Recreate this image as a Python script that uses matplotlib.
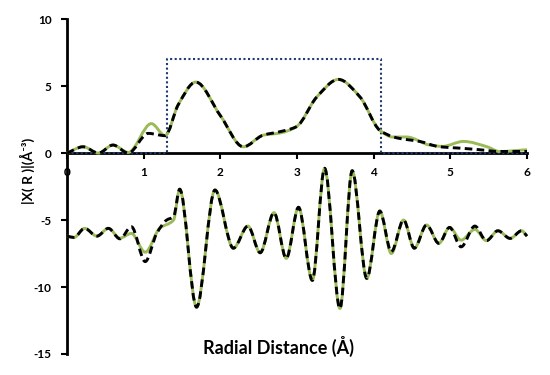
import numpy as np
import matplotlib
matplotlib.use("Agg")
import matplotlib.pyplot as plt
from matplotlib.path import Path
from matplotlib.patches import PathPatch

# ---- data ----
mag_fit_x = [0, 0.21, 0.41, 0.60, 0.80, 1.06, 1.28, 1.45, 1.68, 2.0, 2.30, 2.56, 2.78, 2.99,
             3.26, 3.54, 3.82, 4.08, 4.25, 4.34, 4.60, 4.86, 5.12, 5.38, 5.64, 6.0]
mag_fit_y = [0, 0.47, 0.0, 0.6, 0.0, 1.47, 1.30, 3.6, 5.3, 2.8, 0.47, 1.34, 1.6, 1.96,
             4.2, 5.5, 4.2, 1.7, 1.22, 1.09, 0.87, 0.47, 0.37, 0.25, 0.12, 0.12]
mag_exp_x = [0, 0.21, 0.41, 0.60, 0.80, 1.10, 1.28, 1.45, 1.68, 2.0, 2.30, 2.56, 2.78, 2.99,
             3.26, 3.54, 3.82, 4.08, 4.25, 4.43, 4.73, 4.90, 5.17, 5.48, 5.64, 6.0]
mag_exp_y = [0, 0.47, 0.0, 0.6, 0.05, 2.2, 1.30, 3.6, 5.3, 2.8, 0.47, 1.34, 1.5, 1.96,
             4.2, 5.5, 4.2, 1.7, 1.2, 1.2, 0.6, 0.5, 0.87, 0.47, 0.12, 0.25]

re_fit_x = [0, 0.09, 0.23, 0.39, 0.54, 0.69, 0.84, 1.02, 1.17, 1.30, 1.39, 1.47, 1.69, 1.93,
            2.17, 2.36, 2.52, 2.70, 2.86, 3.02, 3.20, 3.36, 3.56, 3.72, 3.91, 4.08, 4.23,
            4.39, 4.53, 4.69, 4.85, 4.99, 5.14, 5.32, 5.47, 5.62, 5.78, 5.93, 6.0]
re_fit_y = [-6.19, -6.3, -5.62, -6.2, -5.62, -6.4, -5.5, -8.1, -6.0, -5.0, -4.75, -2.7, -11.5, -2.76,
            -7.1, -5.45, -7.44, -4.45, -7.86, -4.05, -9.5, -1.14, -11.6, -1.32, -9.35, -4.33, -7.36,
            -5.0, -7.1, -5.37, -6.74, -5.55, -7.0, -5.45, -6.54, -5.8, -6.37, -5.8, -6.2]
re_exp_x = [0, 0.09, 0.23, 0.39, 0.54, 0.69, 0.84, 1.02, 1.21, 1.39, 1.47, 1.69, 1.93,
            2.17, 2.36, 2.52, 2.70, 2.86, 3.02, 3.20, 3.36, 3.56, 3.72, 3.91, 4.08, 4.23,
            4.39, 4.53, 4.69, 4.85, 4.99, 5.14, 5.32, 5.47, 5.62, 5.78, 5.93, 6.0]
re_exp_y = [-6.19, -6.3, -5.62, -6.2, -5.62, -6.35, -6.0, -7.4, -5.6, -5.0, -2.7, -11.5, -2.76,
            -7.1, -5.45, -7.44, -4.45, -7.86, -4.05, -9.5, -1.14, -11.6, -1.32, -9.35, -4.33, -7.5,
            -5.0, -7.1, -5.37, -6.74, -5.55, -6.5, -5.7, -6.54, -5.8, -6.37, -5.8, -6.2]

win_x = [0, 1.3, 1.3, 4.1, 4.1, 6.0]
win_y = [0, 0, 7, 7, 0, 0]

x_ticks = [0, 1, 2, 3, 4, 5, 6]
y_ticks = [-15, -10, -5, 0, 5, 10]

GREEN = "#9BBB59"
NAVY = "#1F3A70"


def smooth_path(xs, ys):
    """Smoothed line as cubic Bezier segments (monotone tangents)."""
    x = np.asarray(xs, float)
    y = np.asarray(ys, float)
    h = np.diff(x)
    d = np.diff(y) / h
    m = np.zeros_like(x)
    for k in range(1, len(x) - 1):
        if d[k - 1] * d[k] <= 0:
            m[k] = 0.0
        else:
            w1 = 2 * h[k] + h[k - 1]
            w2 = h[k] + 2 * h[k - 1]
            m[k] = (w1 + w2) / (w1 / d[k - 1] + w2 / d[k])
    m[0] = d[0]
    m[-1] = d[-1]
    verts = [(x[0], y[0])]
    codes = [Path.MOVETO]
    for k in range(len(x) - 1):
        verts += [(x[k] + h[k] / 3, y[k] + m[k] * h[k] / 3),
                  (x[k + 1] - h[k] / 3, y[k + 1] - m[k + 1] * h[k] / 3),
                  (x[k + 1], y[k + 1])]
        codes += [Path.CURVE4] * 3
    return Path(verts, codes)


plt.rcParams['font.family'] = ['Lato', 'DejaVu Sans']
fig = plt.figure(figsize=(5.5, 3.75), dpi=100)
ax = fig.add_axes([0.1218, 0.056, 0.8364, 0.893])
ax.set_xlim(0, 6)
ax.set_ylim(-15, 10)

for xs, ys in [(mag_exp_x, mag_exp_y), (re_exp_x, re_exp_y)]:
    ax.add_patch(PathPatch(smooth_path(xs, ys), facecolor='none', edgecolor=GREEN,
                           lw=2.1, zorder=3, clip_on=False))
for xs, ys in [(mag_fit_x, mag_fit_y), (re_fit_x, re_fit_y)]:
    ax.add_patch(PathPatch(smooth_path(xs, ys), facecolor='none', edgecolor='black',
                           lw=2.1, linestyle=(0, (2.6, 1.5)), zorder=4, clip_on=False))

ax.plot(win_x, win_y, color=NAVY, lw=1.5, linestyle=(0, (1, 1.2)), zorder=2, clip_on=False)

for s in ['top', 'right']:
    ax.spines[s].set_visible(False)
ax.spines['bottom'].set_position(('data', 0))
ax.spines['bottom'].set_linewidth(2.0)
ax.spines['left'].set_linewidth(2.0)
ax.spines['bottom'].set_zorder(1)

ax.set_xticks(x_ticks)
ax.set_yticks(y_ticks)
ax.set_xticklabels([str(v) for v in x_ticks], fontweight='bold', fontsize=8.5)
ax.set_yticklabels([str(v) for v in y_ticks], fontweight='bold', fontsize=8.5)
ax.tick_params(axis='x', direction='out', length=4, width=1.5, pad=6)
ax.tick_params(axis='y', direction='out', length=4, width=1.5, pad=7)

fig.text(0.506, 0.075, "Radial Distance (Å)", ha='center', va='center',
         fontsize=13, fontweight='bold')
fig.text(0.049, 0.544, "|X( R )|(Å⁻³)", ha='center', va='center',
         rotation=90, fontsize=10, fontweight='bold')

fig.savefig("out.png", dpi=100)
